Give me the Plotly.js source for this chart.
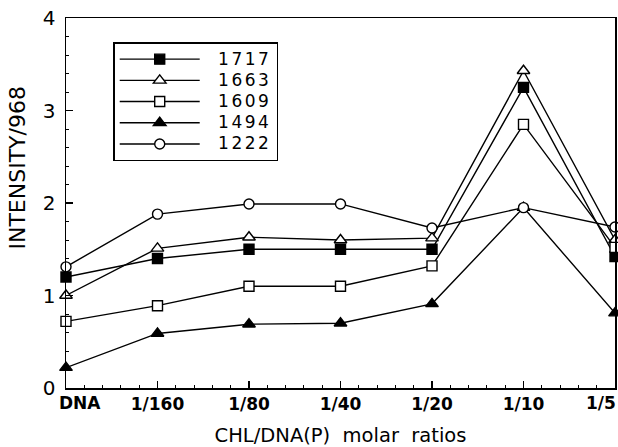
<!DOCTYPE html>
<html>
<head>
<meta charset="utf-8">
<script src="https://cdn.plot.ly/plotly-3.0.1.min.js"></script>
<style>html,body{margin:0;padding:0;background:#fff;}#chart{width:618px;height:447px;}</style>
</head>
<body>
<div id="chart"></div>
<script>
var categories = ["DNA", "1/160", "1/80", "1/40", "1/20", "1/10", "1/5"];
var s1717 = [1.20, 1.40, 1.50, 1.50, 1.50, 3.25, 1.42];
var s1663 = [1.00, 1.51, 1.63, 1.60, 1.62, 3.43, 1.60];
var s1609 = [0.72, 0.89, 1.10, 1.10, 1.32, 2.85, 1.52];
var s1494 = [0.22, 0.59, 0.69, 0.70, 0.91, 1.95, 0.81];
var s1222 = [1.31, 1.88, 1.99, 1.99, 1.73, 1.95, 1.74];
var seriesNames = ["1717", "1663", "1609", "1494", "1222"];
var yTicks = [0, 1, 2, 3, 4];

var xIdx = categories.map(function(c, i){ return i; });
var last = categories.length - 1;
// first and last category labels are drawn as annotations (offset in the original)
var tickText = categories.map(function(c, i){ return (i === 0 || i === last) ? "" : c; });
var FONT = "DejaVu Sans, Verdana, sans-serif";

function legendLabel(name) {
  return "\u00A0\u00A0\u00A0" + '<span style="font-size:17px;letter-spacing:2.5px">' + name + '</span>';
}

function tr(name, y, symbol, fill) {
  return {
    x: xIdx, y: y, name: legendLabel(name), type: "scatter", mode: "lines+markers",
    cliponaxis: false,
    line: {color: "#000", width: 1.4},
    marker: {symbol: symbol, size: symbol.indexOf("triangle") === 0 ? 11 : 10, color: fill,
             line: {color: "#000", width: 1.4}}
  };
}

var data = [
  tr(seriesNames[0], s1717, "square", "#000"),
  tr(seriesNames[1], s1663, "triangle-up", "#fff"),
  tr(seriesNames[2], s1609, "square", "#fff"),
  tr(seriesNames[3], s1494, "triangle-up", "#000"),
  tr(seriesNames[4], s1222, "circle", "#fff")
];

var layout = {
  width: 618, height: 447,
  margin: {l: 66, r: 3, t: 18, b: 59},
  paper_bgcolor: "#fff", plot_bgcolor: "#fff",
  font: {family: FONT, color: "#000"},
  showlegend: true,
  legend: {
    x: 0.086, y: 0.935, xanchor: "left", yanchor: "top",
    traceorder: "normal",
    bgcolor: "#fff", bordercolor: "#000", borderwidth: 1.5,
    font: {size: 14, family: FONT, color: "#000"},
    itemwidth: 80, tracegroupgap: 0
  },
  xaxis: {
    range: [0, 6], tickmode: "array", tickvals: xIdx, ticktext: tickText,
    showgrid: false, zeroline: false,
    showline: true, linecolor: "#000", linewidth: 1.5, mirror: true,
    ticks: "inside", ticklen: 7, tickwidth: 1.2, tickcolor: "#000",
    tickfont: {size: 17, family: FONT, weight: "bold"},
    minor: {tickmode: "linear", tick0: 0, dtick: 0.2, ticks: "inside", ticklen: 3, tickcolor: "#000", tickwidth: 1},
    title: {text: "CHL/DNA(P)&nbsp; molar&nbsp; ratios", font: {size: 19.5}, standoff: 16}
  },
  yaxis: {
    range: [0, 4], tickmode: "array", tickvals: yTicks, ticktext: yTicks.map(String),
    showgrid: false, zeroline: false,
    showline: true, linecolor: "#000", linewidth: 1.5, mirror: true,
    ticks: "inside", ticklen: 7, tickwidth: 1.2, tickcolor: "#000",
    tickfont: {size: 20},
    minor: {tickmode: "linear", tick0: 0, dtick: 0.2, ticks: "inside", ticklen: 3, tickcolor: "#000", tickwidth: 1},
    ticklabelstandoff: 5
  },
  annotations: [{
    xref: "paper", yref: "paper", x: -0.088, y: 0.595,
    xanchor: "center", yanchor: "middle", textangle: -90, showarrow: false,
    text: "INTENSITY/968", font: {size: 22, family: FONT, color: "#000"}
  }, {
    xref: "x", yref: "paper", x: xIdx[0], y: 0, xanchor: "left", yanchor: "top",
    xshift: -9, yshift: -3, showarrow: false,
    text: categories[0], font: {size: 17, family: FONT, color: "#000", weight: "bold"}
  }, {
    xref: "x", yref: "paper", x: xIdx[last], y: 0, xanchor: "right", yanchor: "top",
    xshift: 3, yshift: -3, showarrow: false,
    text: categories[last], font: {size: 17, family: FONT, color: "#000", weight: "bold"}
  }]
};

Plotly.newPlot("chart", data, layout, {displayModeBar: false, staticPlot: true});
</script>
</body>
</html>
